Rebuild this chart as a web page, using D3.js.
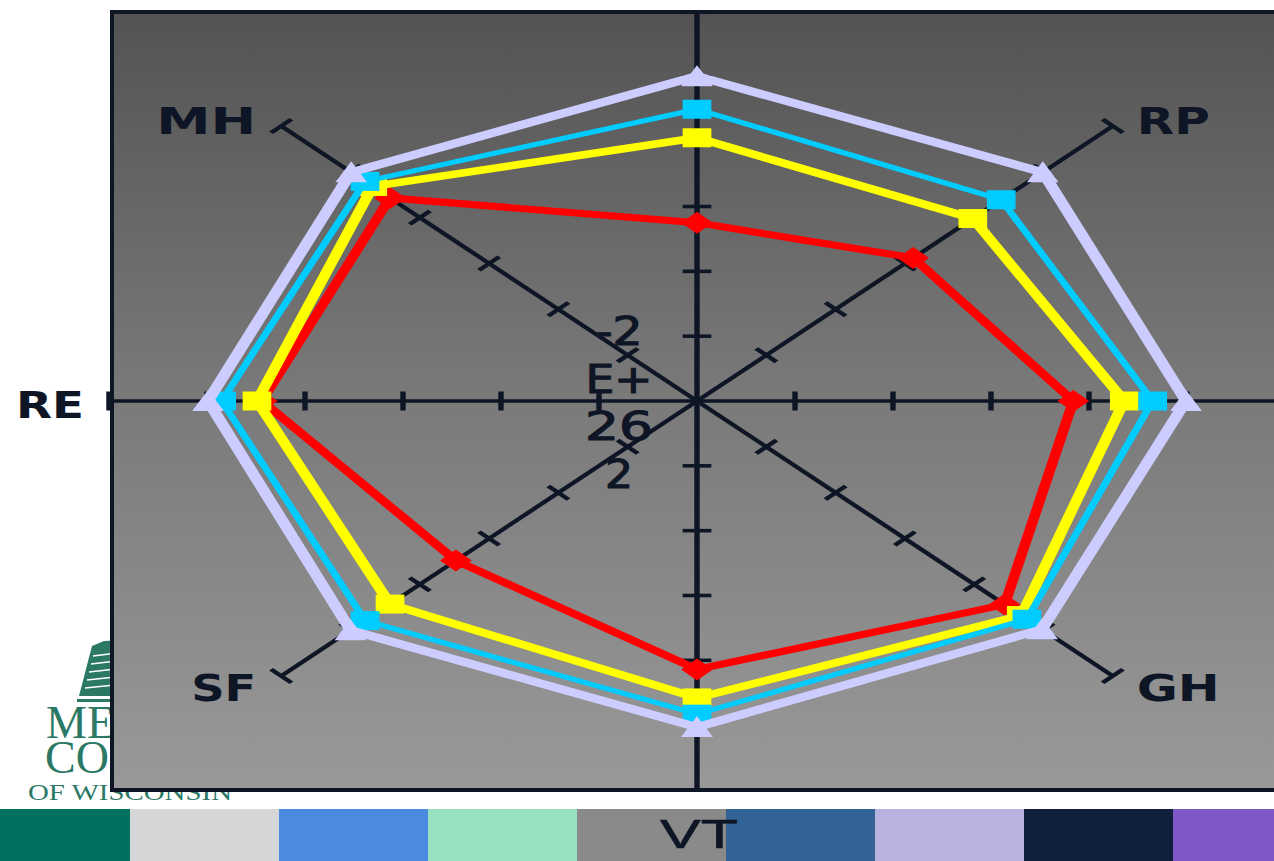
<!DOCTYPE html>
<html>
<head>
<meta charset="utf-8">
<script src="https://cdn.jsdelivr.net/npm/d3@7"></script>
<style>
body { margin: 0; background: #ffffff; overflow: hidden; }
</style>
</head>
<body>
<svg id="chart" width="1274" height="861"></svg>
<script>
// SF-36 domains, clockwise from the top
var axes = ["PF", "RP", "BP", "GH", "VT", "SF", "RE", "MH"];
var tickValues = [1, 2, 3, 4, 5, 6];

// series values (0..6 scale)
var redValues      = [2.75, 3.12, 3.84, 4.44, 4.14, 3.48, 4.44, 4.43];
var yellowValues   = [4.06, 3.98, 4.36, 4.68, 4.58, 4.43, 4.49, 4.68];
var cyanValues     = [4.50, 4.39, 4.65, 4.76, 4.83, 4.79, 4.85, 4.79];
var lavenderValues = [5.01, 4.99, 4.99, 4.98, 5.03, 5.00, 4.99, 4.99];

// the broken value-axis label that sits in the middle
var centerLabel = ["-2", "E+", "26", "2"];

// colour strip along the bottom of the slide
var stripColors = ["#00715f", "#d5d6d8", "#4a8ae0", "#98e0c0", "#8a8a8a",
                   "#336295", "#b7b2de", "#10203c", "#7e58c6"];

var series = [
    { name: "red",      values: redValues,      color: "#ff0000", width: 7,   marker: "diamond" },
    { name: "yellow",   values: yellowValues,   color: "#ffff00", width: 7.5, marker: "square" },
    { name: "cyan",     values: cyanValues,     color: "#00ccff", width: 5,   marker: "square" },
    { name: "lavender", values: lavenderValues, color: "#ccccff", width: 8,   marker: "triangle" }
];

var svg = d3.select("#chart");
var ink = "#0e1626";
var W = 1274, H = 861;

// ---- logo behind the plot area ----
var logoGreen = "#2b7865";
var logo = svg.append("g").attr("class", "logo");
logo.append("path")
    .attr("d", "M92,646 L104,641 L125,640 L125,696 L79,696 Z")
    .attr("fill", logoGreen);
[655, 663, 671, 679, 687].forEach(function (y, i) {
    logo.append("line")
        .attr("x1", 93 - i * 2).attr("y1", y + 1)
        .attr("x2", 125).attr("y2", y - 3)
        .attr("stroke", "#ffffff").attr("stroke-width", 1.6);
});
logo.append("rect").attr("x", 77).attr("y", 699).attr("width", 50).attr("height", 3)
    .attr("fill", logoGreen);
logo.append("text").attr("x", 46).attr("y", 738)
    .attr("font-family", "Liberation Serif").attr("font-size", 46)
    .attr("fill", logoGreen).text("MEDICAL");
logo.append("text").attr("x", 45).attr("y", 773)
    .attr("font-family", "Liberation Serif").attr("font-size", 46)
    .attr("fill", logoGreen).text("COLLEGE");
logo.append("text").attr("x", 28).attr("y", 800)
    .attr("font-family", "Liberation Serif").attr("font-size", 24)
    .attr("textLength", 204).attr("lengthAdjust", "spacingAndGlyphs")
    .attr("fill", logoGreen).text("OF WISCONSIN");

// ---- plot area ----
var defs = svg.append("defs");
var grad = defs.append("linearGradient").attr("id", "plotBg")
    .attr("x1", 0).attr("y1", 0).attr("x2", 0).attr("y2", 1);
grad.append("stop").attr("offset", "0%").attr("stop-color", "#535353");
grad.append("stop").attr("offset", "50%").attr("stop-color", "#7a7a7a");
grad.append("stop").attr("offset", "100%").attr("stop-color", "#999999");

svg.append("rect")
    .attr("x", 112).attr("y", 12).attr("width", 1200).attr("height", 778)
    .attr("fill", "url(#plotBg)")
    .attr("stroke", ink).attr("stroke-width", 4);

// ---- radar, drawn in a round space then stretched sideways ----
var cx = 697, cy = 401;
var radiusY = 389, radiusX = 588;
var stretch = radiusX / radiusY;

var r = d3.scaleLinear().domain([0, 6]).range([0, radiusY]);
var angle = d3.scaleLinear().domain([0, axes.length]).range([0, 2 * Math.PI]);

function px(v, i) { return r(v) * Math.sin(angle(i)); }
function py(v, i) { return -r(v) * Math.cos(angle(i)); }

var radar = svg.append("g")
    .attr("transform", "translate(" + cx + "," + cy + ") scale(" + stretch + ",1)");

// axis spokes
radar.selectAll("line.spoke")
    .data(axes)
    .join("line")
    .attr("class", "spoke")
    .attr("x1", 0).attr("y1", 0)
    .attr("x2", function (d, i) { return px(6, i); })
    .attr("y2", function (d, i) { return py(6, i); })
    .attr("stroke", ink).attr("stroke-width", 3.6);

// tick marks across each spoke
var tickHalf = 9.5;
var tickData = [];
axes.forEach(function (a, i) {
    tickValues.forEach(function (t) { tickData.push({ i: i, t: t }); });
});
radar.selectAll("line.tick")
    .data(tickData)
    .join("line")
    .attr("class", "tick")
    .attr("x1", function (d) { return px(d.t, d.i) - tickHalf * Math.cos(angle(d.i)); })
    .attr("y1", function (d) { return py(d.t, d.i) - tickHalf * Math.sin(angle(d.i)); })
    .attr("x2", function (d) { return px(d.t, d.i) + tickHalf * Math.cos(angle(d.i)); })
    .attr("y2", function (d) { return py(d.t, d.i) + tickHalf * Math.sin(angle(d.i)); })
    .attr("stroke", ink).attr("stroke-width", 3.6);

var markerPath = {
    diamond:  "M0,-11L10.5,0L0,11L-10.5,0Z",
    square:   "M-9.5,-9.5H9.5V9.5H-9.5Z",
    triangle: "M0,-11L10.5,10L-10.5,10Z"
};

var line = d3.line()
    .x(function (d, i) { return px(d, i); })
    .y(function (d, i) { return py(d, i); })
    .curve(d3.curveLinearClosed);

series.forEach(function (s) {
    var g = radar.append("g").attr("class", "series " + s.name);
    g.append("path")
        .attr("d", line(s.values))
        .attr("fill", "none")
        .attr("stroke", s.color)
        .attr("stroke-width", s.width)
        .attr("stroke-linejoin", "miter");
    g.selectAll("path.mark")
        .data(s.values)
        .join("path")
        .attr("class", "mark")
        .attr("d", markerPath[s.marker])
        .attr("transform", function (d, i) {
            return "translate(" + px(d, i) + "," + py(d, i) + ")";
        })
        .attr("fill", s.color);
});

// ---- value axis label in the middle ----
var centerWidths = [47, 67, 68, 28];
svg.append("g").selectAll("text")
    .data(centerLabel)
    .join("text")
    .attr("x", 619)
    .attr("y", function (d, i) { return 345 + i * 47.7; })
    .attr("text-anchor", "middle")
    .attr("font-family", "DejaVu Sans")
    .attr("font-size", 39)
    .attr("fill", ink)
    .attr("stroke", ink).attr("stroke-width", 1.2)
    .attr("textLength", function (d, i) { return centerWidths[i]; })
    .attr("lengthAdjust", "spacingAndGlyphs")
    .text(function (d) { return d; });

// ---- colour strip ----
var strip = d3.scaleBand().domain(d3.range(stripColors.length)).range([-19, -19 + 149 * 9]);
svg.append("g").selectAll("rect")
    .data(stripColors)
    .join("rect")
    .attr("x", function (d, i) { return strip(i); })
    .attr("y", 809)
    .attr("width", strip.bandwidth() + 0.5)
    .attr("height", 52)
    .attr("fill", function (d) { return d; });

// ---- category labels (PF and BP fall outside the slide, as in the original) ----
var labelLength = { MH: 100, RP: 73, RE: 68, SF: 65, GH: 83 };
var labels = svg.append("g").attr("class", "labels");
axes.forEach(function (name, i) {
    var ex = cx + stretch * px(6, i);
    var ey = cy + py(6, i);
    var dx = Math.round(Math.sin(angle(i)) * 1000);
    var dy = Math.round(-Math.cos(angle(i)) * 1000);
    if (dx === 0) {
        var ty = dy > 0 ? ey + 58 : ey - 30;
        if (ty < 0) return;
        labels.append("text").text(name).attr("fill", ink)
            .attr("x", ex + 2).attr("y", ty)
            .attr("text-anchor", "middle")
            .attr("font-family", "Liberation Sans")
            .attr("font-size", 40)
            .attr("stroke", ink).attr("stroke-width", 0.6)
            .attr("textLength", 78).attr("lengthAdjust", "spacingAndGlyphs");
        return;
    }
    var tx = dx > 0 ? ex + 24 : ex - 25;
    if (tx > W) return;
    labels.append("text").text(name).attr("fill", ink)
        .attr("x", tx)
        .attr("y", ey + (dy < 0 ? 8 : dy > 0 ? 25 : 17))
        .attr("text-anchor", dx > 0 ? "start" : "end")
        .attr("font-family", "DejaVu Sans")
        .attr("font-weight", "bold")
        .attr("font-size", 37)
        .attr("textLength", labelLength[name])
        .attr("lengthAdjust", "spacingAndGlyphs");
});
</script>
</body>
</html>
